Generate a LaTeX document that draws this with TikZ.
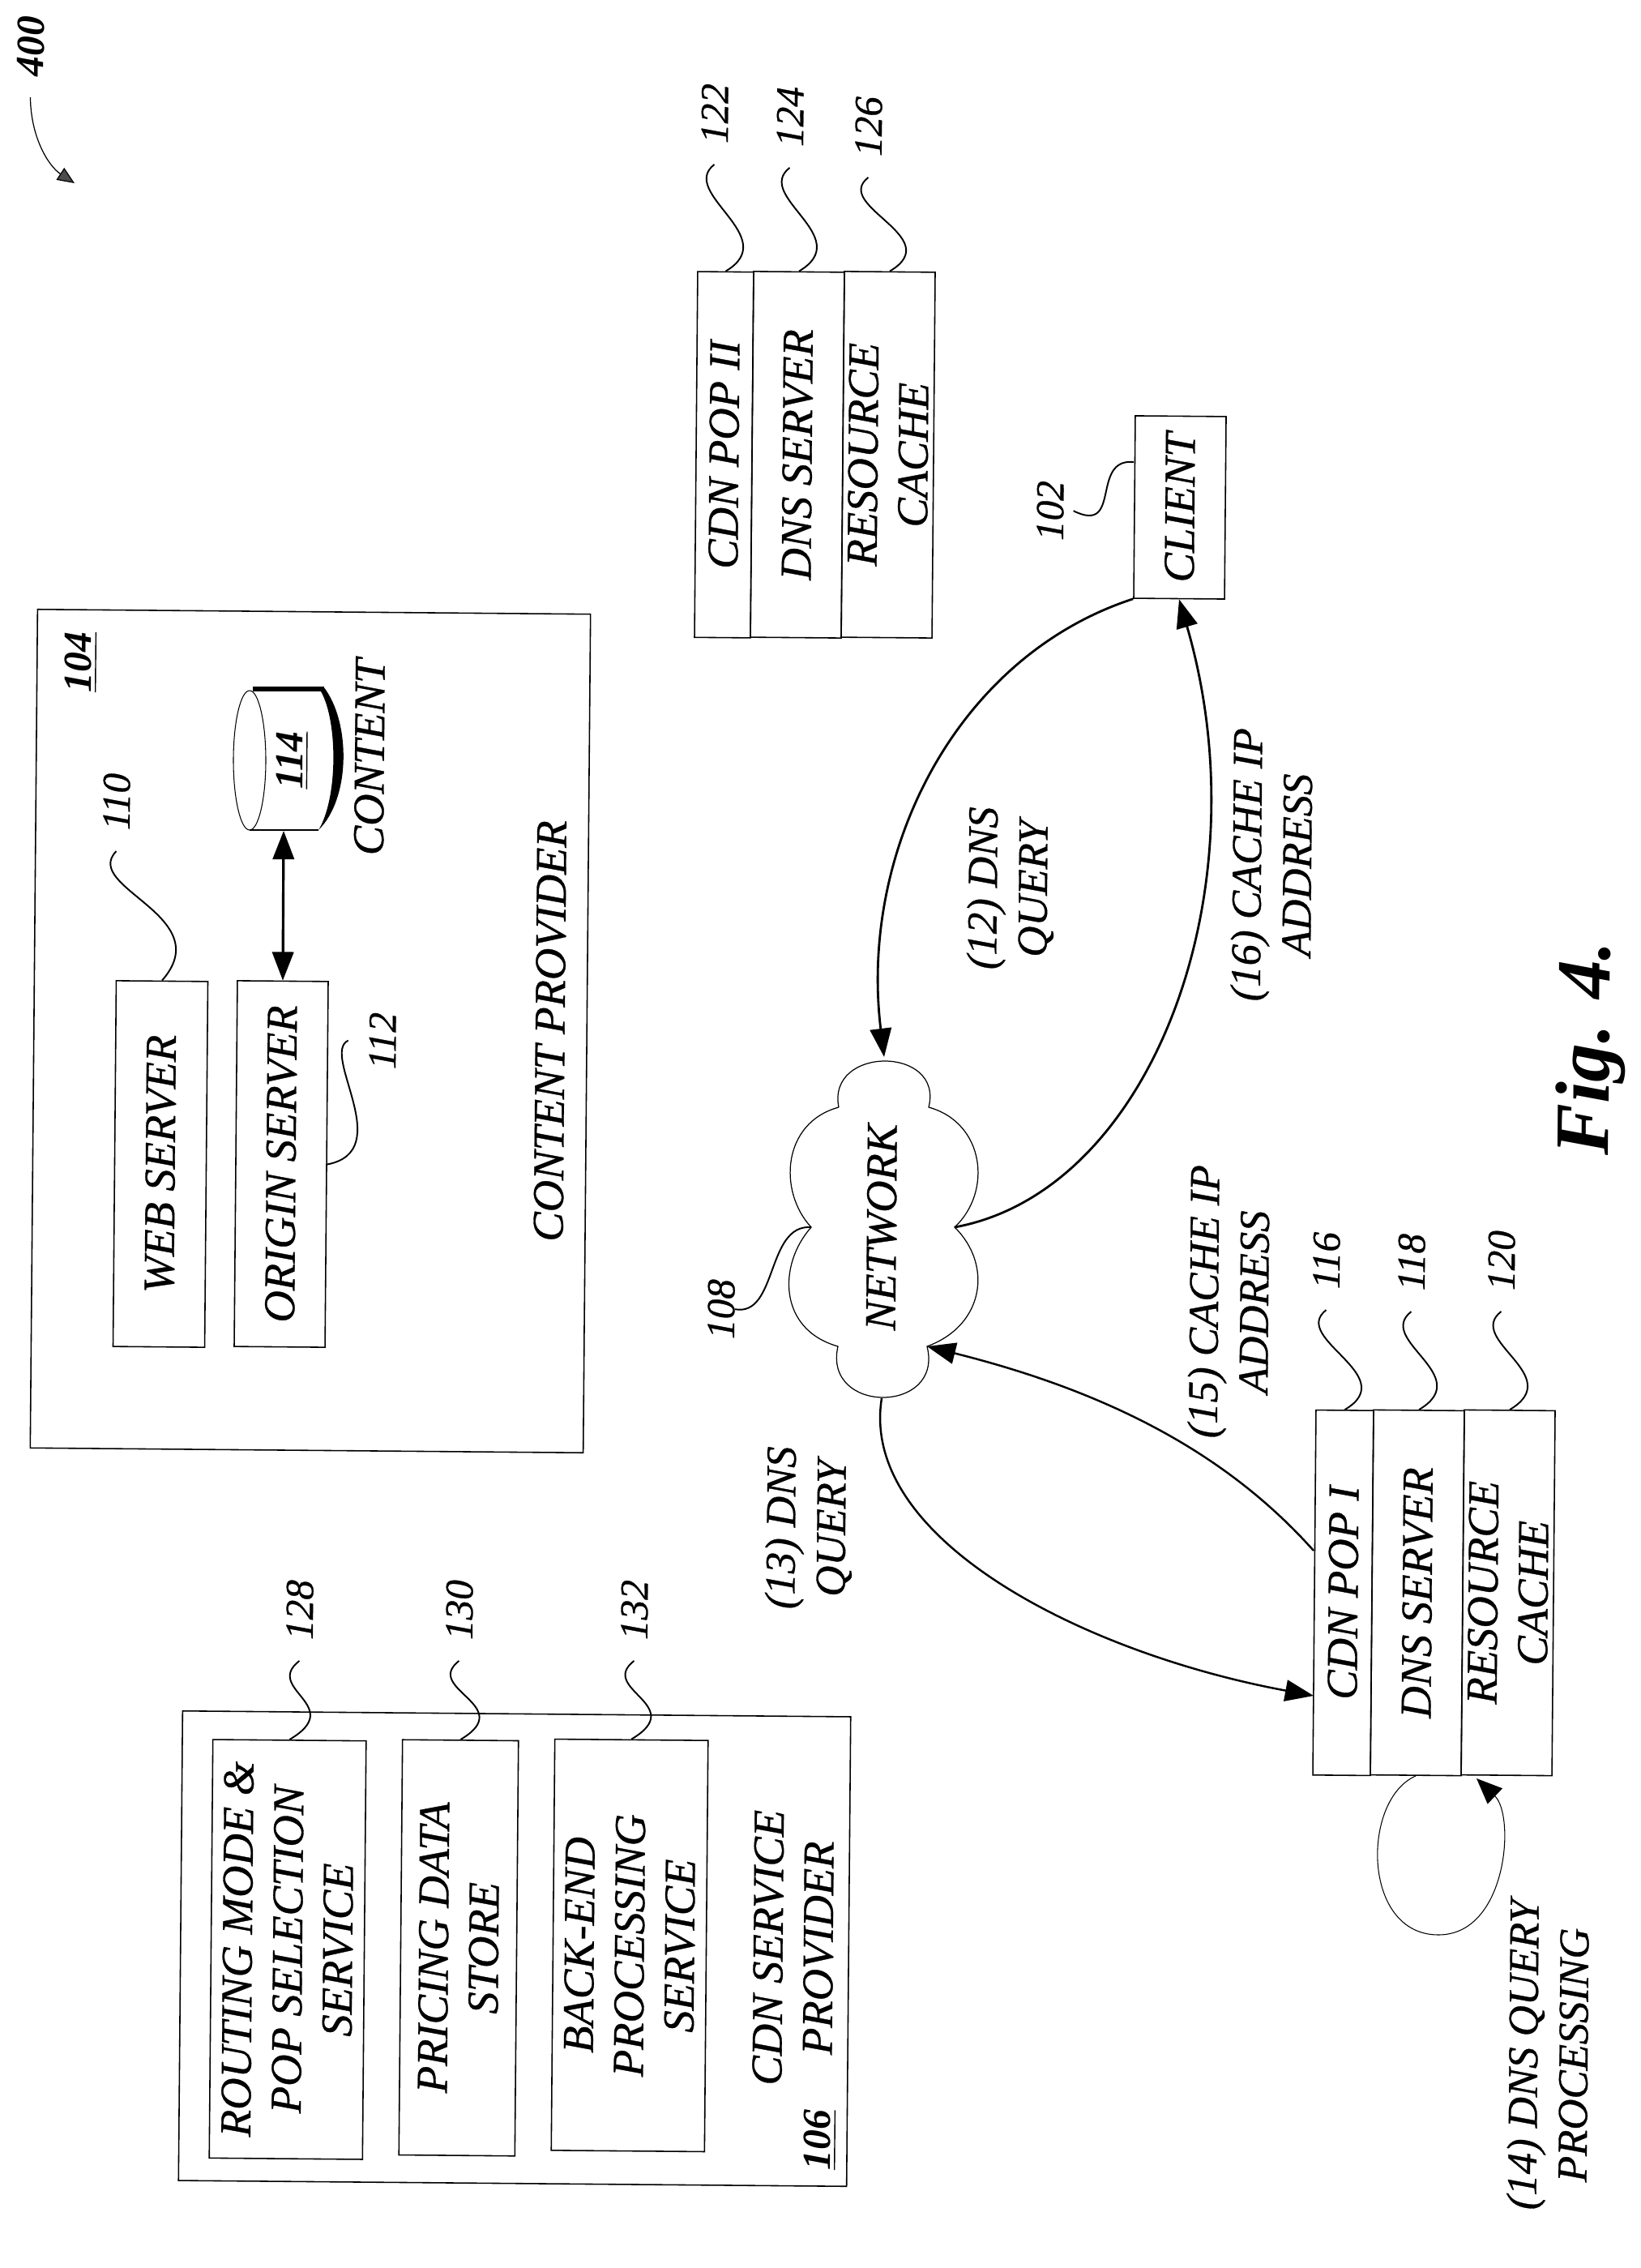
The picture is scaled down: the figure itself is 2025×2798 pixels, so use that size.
\documentclass[tikz,border=0pt]{standalone}
\usepackage{fontspec}
\setmainfont{Liberation Serif}[ItalicFeatures={FakeBold=0.6}]
\usetikzlibrary{arrows.meta}
\usetikzlibrary{calc}
\newcommand{\boxfont}{\fontsize{15.5}{17.6}\selectfont\itshape}
\newcommand{\flowfont}{\fontsize{15}{17.6}\selectfont\itshape}
\newcommand{\numfont}{\fontsize{14}{15}\selectfont\itshape}
\newcommand{\boldnum}{\fontsize{14}{15}\selectfont\bfseries\itshape}
\tikzset{
	boxnode/.style={draw=black, line width=.45pt, rectangle, inner sep=0pt, rotate=89.5, align=center, font=\boxfont},
	textnode/.style={inner sep=0pt, rotate=89.5, align=center, font=\boxfont},
	flowtext/.style={inner sep=0pt, rotate=89.5, align=center, font=\flowfont},
	refnum/.style={inner sep=0pt, outer sep=.26cm, rotate=89.5, font=\numfont},
	refbold/.style={inner sep=0pt, rotate=89.5, font=\boldnum},
	leadline/.style={draw=black, line width=.55pt},
	flowline/.style={draw=black, line width=.8pt, -{Stealth[length=10pt,width=7.5pt,inset=0pt]}},
}
\begin{document}
\begin{tikzpicture}[x=0.01cm,y=-0.01cm]
	\useasboundingbox (0,0) rectangle (2025,2798);

	\node[refnum] (l400) at (38,57) {\boldnum 400};
	\coordinate (400a) at (92,226);
	\draw[line width=.35pt, -{Stealth[length=6pt,width=5pt,inset=0pt,fill=gray!60!black]}] (l400.west) .. controls (38,170) and (60,205) .. (400a);

	% content provider
	\node[boxnode, minimum width=10.34cm, minimum height=6.82cm] (104) at (383,1272) {};
	\node[boxnode, minimum width=4.51cm, minimum height=1.13cm] (110) at (198,1436) {WEB SERVER};
	\node[boxnode, minimum width=4.51cm, minimum height=1.12cm] (112) at (347,1436) {ORIGIN SERVER};
	\node[textnode] (n104) at (679,1272) {CONTENT PROVIDER};
	\node[textnode] (n114) at (456,934) {CONTENT};
	\node[refbold] (l104) at (100,817) {\underline{104}};
	\node[refbold] (114) at (361,938) {\underline{114}};
	\node[refnum] (l110) at (144,989) {110};
	\node[refnum] (l112) at (472,1284) {112};
	\coordinate (114b) at (350,1025);
	\draw[line width=.3pt] (308,938) ellipse (20 and 86);
	\draw[line width=.3pt] (308,1024) -- (393,1024);
	\draw[line width=1.6pt] (312,850) -- (400,850);
	\fill[black] (399,847) .. controls (433,890) and (433,985) .. (393,1024) .. controls (417,985) and (417,890) .. (396,853) -- cycle;
	\path (112.east) edge[draw=black, line width=.9pt, {Stealth[length=10pt,width=7.5pt,inset=0pt]}-{Stealth[length=10pt,width=7.5pt,inset=0pt]}] (114b);
	\draw[leadline] (l110.west) .. controls (100,1095) and (270,1130) .. (110.east);
	\draw[leadline] (l112.north) .. controls (395,1300) and (490,1420) .. (112.south);

	% cdn pop ii
	\node[boxnode, minimum width=4.51cm, minimum height=.69cm] (122) at (893.5,561) {CDN POP II};
	\node[boxnode, minimum width=4.51cm, minimum height=1.12cm] (124) at (984,561) {DNS SERVER};
	\node[boxnode, minimum width=4.51cm, minimum height=1.12cm] (126) at (1096,561) {RESOURCE\\CACHE};
	\node[refnum] (l122) at (882,140) {122};
	\node[refnum] (l124) at (975,144) {124};
	\node[refnum] (l126) at (1072,156) {126};

	% client
	\node[boxnode, minimum width=2.25cm, minimum height=1.12cm] (102) at (1456,626) {CLIENT};
	\node[refnum, outer sep=.12cm] (l102) at (1296,630) {102};
	\coordinate (102a) at (1399,570);
	\draw[leadline] (l102.south) .. controls (1385,660) and (1345,565) .. (102a);

	% network
	\coordinate (108a) at (1035,1366);
	\coordinate (108b) at (1146,1366);
	\coordinate (108c) at (1178,1514);
	\coordinate (108d) at (1144,1661);
	\coordinate (108e) at (1034,1661);
	\coordinate (108f) at (1001,1514);
	\coordinate (108t) at (1091,1304);
	\coordinate (108u) at (1088,1725);
	\draw[line width=.35pt] (108a) .. controls (1020,1290) and (1165,1290) .. (108b)
		.. controls (1215,1385) and (1225,1470) .. (108c)
		.. controls (1225,1560) and (1215,1635) .. (108d)
		.. controls (1165,1745) and (1015,1745) .. (108e)
		.. controls (960,1640) and (960,1560) .. (108f)
		.. controls (960,1470) and (965,1385) .. (108a);
	\node[textnode] (108) at (1088,1514) {NETWORK};
	\node[refnum, outer sep=0pt] (l108) at (890,1615) {108};
	\draw[leadline] (l108.south) .. controls (960,1625) and (945,1510) .. (108f);

	% cdn pop i
	\node[boxnode, minimum width=4.50cm, minimum height=.71cm] (116) at (1657.5,1965) {CDN POP I};
	\node[boxnode, minimum width=4.50cm, minimum height=1.12cm] (118) at (1749,1965) {DNS SERVER};
	\node[boxnode, minimum width=4.50cm, minimum height=1.12cm] (120) at (1861,1965) {RESOURCE\\CACHE};
	\node[refnum] (l116) at (1637,1555) {116};
	\node[refnum] (l118) at (1742,1557) {118};
	\node[refnum] (l120) at (1853,1555) {120};
	\coordinate (116a) at (1621,2092);
	\coordinate (116b) at (1621,1913);
	\coordinate (120a) at (1822,2194);

	% cdn service provider
	\node[boxnode, minimum width=5.79cm, minimum height=8.24cm] (106) at (635,2404) {};
	\node[boxnode, minimum width=5.16cm, minimum height=1.89cm] (128) at (355,2405) {ROUTING MODE \&\\POP SELECTION\\SERVICE};
	\node[boxnode, minimum width=5.12cm, minimum height=1.43cm] (130) at (566,2403) {PRICING DATA\\STORE};
	\node[boxnode, minimum width=5.07cm, minimum height=1.89cm] (132) at (777,2400) {BACK-END\\PROCESSING\\SERVICE};
	\node[textnode] (n106) at (979,2403) {CDN SERVICE\\PROVIDER};
	\node[refbold] (l106) at (1012,2640) {\underline{106}};
	\node[refnum] (l128) at (370,1986) {128};
	\node[refnum] (l130) at (567,1986) {130};
	\node[refnum] (l132) at (783,1986) {132};

	\foreach \n in {122,124,126,116,118,120,128,130,132}
		\draw[leadline] (l\n.west) .. controls ($(l\n.west)+(-45,35)$) and ($(\n.east)+(71,-42)$) .. (\n.east);

	% flows
	\draw[flowline] (102.north west) .. controls (1180,810) and (1060,1050) .. (108t);
	\draw[flowline] (108c) .. controls (1420,1470) and (1560,1100) .. (102.west);
	\draw[flowline, line width=.7pt] (108u) .. controls (1060,1900) and (1340,2040) .. (116a);
	\draw[flowline, line width=.7pt] (116b) .. controls (1520,1800) and (1380,1720) .. (108d);
	\draw[line width=.3pt, -{Stealth[length=9pt,width=7.5pt,inset=0pt]}] (118.west) .. controls (1680,2220) and (1680,2387) .. (1775,2387) .. controls (1860,2387) and (1870,2240) .. (120a);

	\node[flowtext] (t12) at (1247,1096) {(12) DNS\\QUERY};
	\node[flowtext] (t13) at (998,1885) {(13) DNS\\QUERY};
	\node[flowtext] (t14) at (1910,2535) {(14) DNS QUERY\\PROCESSING};
	\node[flowtext] (t15) at (1516,1606) {(15) CACHE IP\\ADDRESS};
	\node[flowtext] (t16) at (1569,1067) {(16) CACHE IP\\ADDRESS};

	\node[inner sep=0pt, rotate=89.5, font=\fontsize{27}{30}\selectfont\bfseries\itshape] (fig) at (1963,1293) {Fig. 4.};
\end{tikzpicture}
\end{document}
